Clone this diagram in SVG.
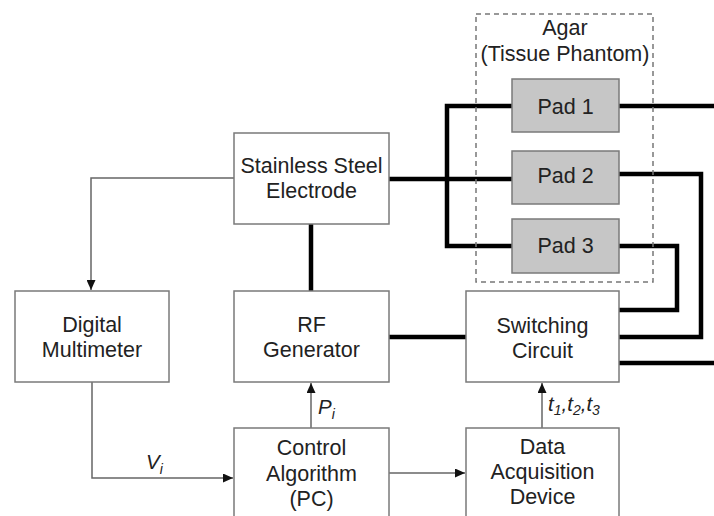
<svg xmlns="http://www.w3.org/2000/svg" width="714" height="516" viewBox="0 0 714 516">
<defs>
<style>
.box{fill:#fff;stroke:#7a7a7a;stroke-width:1.5}
.pad{fill:#c6c6c6;stroke:#7a7a7a;stroke-width:1.5}
.t{font-family:"Liberation Sans",Arial,sans-serif;font-size:21.5px;fill:#222;text-anchor:middle}
.lbl{font-family:"Liberation Sans",Arial,sans-serif;font-size:20.5px;fill:#222;font-style:italic}
.thin{fill:none;stroke:#666;stroke-width:1.5}
.thick{fill:none;stroke:#000;stroke-width:4.5;stroke-linejoin:miter}
.dash{fill:none;stroke:#777;stroke-width:1.5;stroke-dasharray:5,4}
</style>
<marker id="ah" markerUnits="userSpaceOnUse" markerWidth="10" markerHeight="9" refX="10" refY="4.5" orient="auto">
<path d="M0,0 L10,4.5 L0,9 z" fill="#111"/>
</marker>
</defs>
<rect width="714" height="516" fill="#fff"/>

<g id="connectors">
<path class="thin" d="M234,178 H91 V290" marker-end="url(#ah)"/>
<path class="thin" d="M92,382 V478 H233" marker-end="url(#ah)"/>
<path class="thin" d="M311,428 V383" marker-end="url(#ah)"/>
<path class="thin" d="M389,473 H465" marker-end="url(#ah)"/>
<path class="thin" d="M542,428 V383" marker-end="url(#ah)"/>
<path class="thick" d="M311,224 V291"/>
<path class="thick" d="M389,337 H466"/>
<path class="thick" d="M389,179 H512"/>
<path class="thick" d="M512,106 H447 V246 H512"/>
<path class="thick" d="M619,106 H714"/>
<path class="thick" d="M619,174 H701 V337 H619"/>
<path class="thick" d="M619,246 H677 V310 H619"/>
<path class="thick" d="M619,363 H714"/>
<text class="lbl" x="146" y="469">V<tspan font-size="14" dy="5">i</tspan></text>
<text class="lbl" x="318" y="414">P<tspan font-size="14" dy="5">i</tspan></text>
<text class="lbl" x="548" y="411">t<tspan font-size="14" dy="4">1</tspan><tspan dy="-4">,t</tspan><tspan font-size="14" dy="4">2</tspan><tspan dy="-4">,t</tspan><tspan font-size="14" dy="4">3</tspan></text>
</g>

<g id="agar">
<rect class="dash" x="476" y="14" width="177" height="268"/>
<text class="t" x="565" y="35">Agar</text>
<text class="t" x="565" y="61">(Tissue Phantom)</text>
</g>
<g id="pad1">
<rect class="pad" x="512" y="79" width="107" height="53"/>
<text class="t" x="565.5" y="114">Pad 1</text>
</g>
<g id="pad2">
<rect class="pad" x="512" y="151" width="107" height="53"/>
<text class="t" x="565.5" y="183">Pad 2</text>
</g>
<g id="pad3">
<rect class="pad" x="512" y="219" width="107" height="54"/>
<text class="t" x="565.5" y="253">Pad 3</text>
</g>

<g id="electrode">
<rect class="box" x="234" y="133" width="155" height="91"/>
<text class="t" x="311.5" y="173">Stainless Steel</text>
<text class="t" x="311.5" y="198">Electrode</text>
</g>
<g id="multimeter">
<rect class="box" x="15" y="291" width="154" height="91"/>
<text class="t" x="92" y="332">Digital</text>
<text class="t" x="92" y="357">Multimeter</text>
</g>
<g id="rfgen">
<rect class="box" x="234" y="291" width="155" height="91"/>
<text class="t" x="311.5" y="332">RF</text>
<text class="t" x="311.5" y="357">Generator</text>
</g>
<g id="switching">
<rect class="box" x="466" y="291" width="153" height="91"/>
<text class="t" x="542.5" y="333">Switching</text>
<text class="t" x="542.5" y="358">Circuit</text>
</g>
<g id="control">
<rect class="box" x="234" y="428" width="155" height="100"/>
<text class="t" x="311.5" y="455">Control</text>
<text class="t" x="311.5" y="481">Algorithm</text>
<text class="t" x="311.5" y="506">(PC)</text>
</g>
<g id="daq">
<rect class="box" x="466" y="428" width="153" height="100"/>
<text class="t" x="542.5" y="454">Data</text>
<text class="t" x="542.5" y="479">Acquisition</text>
<text class="t" x="542.5" y="504">Device</text>
</g>
</svg>
